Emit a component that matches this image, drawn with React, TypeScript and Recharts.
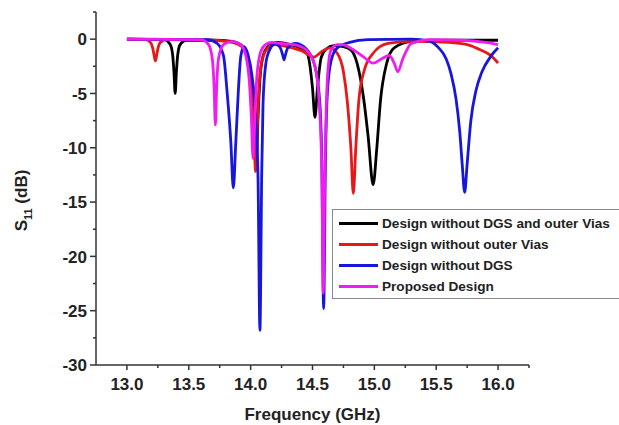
import { Label, Line, LineChart, XAxis, YAxis } from 'recharts';

// S11 traces (frequency in GHz, S11 in dB)
const blackFreq = [13.0, 13.3, 13.35, 13.37, 13.38, 13.39, 13.4, 13.41, 13.43, 13.48, 13.7, 13.85, 13.92, 13.97, 14.0, 14.03, 14.045, 14.06, 14.08, 14.11, 14.16, 14.22, 14.32, 14.4, 14.46, 14.5, 14.52, 14.54, 14.57, 14.61, 14.67, 14.75, 14.81, 14.86, 14.915, 14.95, 14.99, 15.02, 15.05, 15.1, 15.16, 15.3, 15.5, 16.0];
const blackS11 = [0, -0.05, -0.5, -1.5, -3.0, -5.0, -3.0, -1.5, -0.5, -0.1, -0.1, -0.2, -0.5, -1.5, -3.5, -8.5, -11.5, -7, -3, -1.2, -0.5, -0.3, -0.5, -0.8, -1.4, -4.5, -7.2, -4.5, -1.7, -0.9, -0.6, -0.7, -1.0, -2.2, -5.6, -9, -13.4, -10, -5.6, -2.2, -0.8, -0.2, -0.1, -0.1];

const redFreq = [13.0, 13.15, 13.19, 13.21, 13.22, 13.23, 13.24, 13.25, 13.27, 13.32, 13.7, 13.85, 13.93, 13.98, 14.01, 14.03, 14.04, 14.055, 14.07, 14.1, 14.14, 14.19, 14.3, 14.42, 14.51, 14.58, 14.64, 14.7, 14.75, 14.78, 14.81, 14.83, 14.85, 14.875, 14.92, 14.99, 15.11, 15.3, 15.6, 15.75, 15.86, 15.94, 16.0];
const redS11 = [0, -0.05, -0.3, -0.9, -1.5, -2.0, -1.5, -0.9, -0.3, -0.05, -0.1, -0.3, -0.7, -2, -5, -10, -12.2, -8, -4, -1.6, -0.8, -0.5, -0.7, -1.1, -1.65, -1.1, -0.8, -1.3, -3, -5.6, -10, -14.2, -10, -5.6, -2.8, -1.3, -0.4, -0.2, -0.3, -0.5, -1.0, -1.5, -2.2];

const blueFreq = [13.0, 13.65, 13.73, 13.78, 13.81, 13.84, 13.86, 13.88, 13.9, 13.92, 13.945, 13.98, 14.01, 14.04, 14.06, 14.075, 14.09, 14.1, 14.12, 14.145, 14.2, 14.24, 14.26, 14.27, 14.28, 14.3, 14.36, 14.45, 14.52, 14.56, 14.575, 14.59, 14.605, 14.62, 14.65, 14.7, 14.8, 14.95, 15.3, 15.45, 15.52, 15.58, 15.62, 15.66, 15.69, 15.71, 15.73, 15.75, 15.78, 15.82, 15.87, 15.94, 16.0];
const blueS11 = [0, -0.05, -0.4, -1.5, -4.9, -9.5, -13.7, -9.5, -4.9, -1.6, -0.7, -1.5, -3.3, -7, -13, -26.8, -12, -6, -2.5, -1.2, -0.4, -0.8, -1.5, -1.9, -1.5, -0.8, -0.4, -0.9, -2.5, -6, -11, -24.8, -11, -5, -2, -0.8, -0.3, -0.05, 0, -0.2, -0.8, -1.8, -3.2, -5.5, -8.5, -11.5, -14.1, -11.5, -7.5, -4.8, -3, -1.6, -0.8];

const magentaFreq = [13.0, 13.6, 13.66, 13.69, 13.705, 13.715, 13.725, 13.74, 13.78, 13.85, 13.92, 13.96, 13.99, 14.005, 14.02, 14.035, 14.05, 14.08, 14.12, 14.17, 14.25, 14.35, 14.45, 14.52, 14.555, 14.575, 14.587, 14.6, 14.615, 14.63, 14.65, 14.7, 14.74, 14.82, 14.92, 14.99, 15.06, 15.12, 15.16, 15.19, 15.23, 15.3, 15.45, 15.7, 15.9, 16.0];
const magentaS11 = [0, -0.05, -0.5, -1.8, -4.5, -7.9, -4.5, -1.8, -0.5, -0.2, -0.5, -1.5, -4, -7, -11, -7, -3.5, -1.2, -0.5, -0.3, -0.4, -0.5, -1.0, -2.5, -6, -12, -23.4, -12, -5, -2.2, -1.0, -0.5, -0.5, -0.9, -1.7, -2.2, -1.8, -1.5, -2.2, -3.0, -1.8, -0.4, -0.05, -0.1, -0.3, -0.5];

const xTicks = [13.0, 13.25, 13.5, 13.75, 14.0, 14.25, 14.5, 14.75, 15.0, 15.25, 15.5, 15.75, 16.0, 16.25];
const yTicks = [2.5, 0, -2.5, -5, -7.5, -10, -12.5, -15, -17.5, -20, -22.5, -25, -27.5, -30];

const zip = (f: number[], s: number[]) => f.map((x, i) => ({ f: x, s: s[i] }));

const series = [
  { name: 'Design without DGS and outer Vias', color: '#000000', data: zip(blackFreq, blackS11) },
  { name: 'Design without outer Vias', color: '#e81818', data: zip(redFreq, redS11) },
  { name: 'Design without DGS', color: '#1616dc', data: zip(blueFreq, blueS11) },
  { name: 'Proposed Design', color: '#f01cf0', data: zip(magentaFreq, magentaS11) },
];

const FONT = '"Liberation Sans", Arial, sans-serif';
const AXIS = '#333';
const TEXT = '#222';
const TICK_SIZE = 6;
const TICK_MARGIN = 2;

const YTick = (props: any) => {
  const { x, y, payload } = props;
  const v = payload.value;
  const major = v % 5 === 0;
  const ax = x + TICK_SIZE + TICK_MARGIN;
  return (
    <g>
      <line x1={ax} x2={ax - (major ? 6 : 3)} y1={y} y2={y} stroke={AXIS} strokeWidth={1.5} />
      {major && (
        <text x={ax - 9} y={y} dy="0.36em" textAnchor="end" fontSize={17} fontWeight="bold" fill={TEXT} fontFamily={FONT}>
          {v}
        </text>
      )}
    </g>
  );
};

const XTick = (props: any) => {
  const { x, y, payload } = props;
  const v = payload.value;
  const major = Number.isInteger(v * 2);
  const ay = y - TICK_SIZE - TICK_MARGIN;
  return (
    <g>
      <line x1={x} x2={x} y1={ay} y2={ay + (major ? 5 : 3)} stroke={AXIS} strokeWidth={1.5} />
      {major && v <= 16 && (
        <text x={x} y={ay + 19} dy="0.36em" textAnchor="middle" fontSize={17} fontWeight="bold" fill={TEXT} fontFamily={FONT}>
          {v.toFixed(1)}
        </text>
      )}
    </g>
  );
};

export default function App() {
  return (
    <div style={{ position: 'absolute', left: 0, top: 0, width: 619, height: 425, background: '#fff' }}>
      <LineChart width={619} height={425} margin={{ top: 12, right: 90, bottom: 0, left: 36 }}>
        <XAxis
          type="number"
          dataKey="f"
          domain={[12.75, 16.25]}
          ticks={xTicks}
          interval={0}
          tickSize={TICK_SIZE}
          tickMargin={TICK_MARGIN}
          tickLine={false}
          tick={<XTick />}
          height={60}
          stroke={AXIS}
          strokeWidth={1.5}
        >
          <Label
            content={(p: any) => {
              const vb = p.viewBox;
              return (
                <text x={vb.x + vb.width / 2} y={vb.y + 49} dy="0.36em" textAnchor="middle" fontSize={17} fontWeight="bold" fill={TEXT} fontFamily={FONT}>
                  Frequency (GHz)
                </text>
              );
            }}
          />
        </XAxis>
        <YAxis
          type="number"
          domain={[-30, 2.5]}
          ticks={yTicks}
          interval={0}
          tickSize={TICK_SIZE}
          tickMargin={TICK_MARGIN}
          tickLine={false}
          tick={<YTick />}
          width={60}
          stroke={AXIS}
          strokeWidth={1.5}
        >
          <Label
            content={(p: any) => {
              const vb = p.viewBox;
              const cx = vb.x - 9;
              const cy = vb.y + vb.height / 2 + 12;
              return (
                <text transform={`translate(${cx},${cy}) rotate(-90)`} textAnchor="middle" fontSize={17} fontWeight="bold" fill={TEXT} fontFamily={FONT}>
                  <tspan>S</tspan>
                  <tspan fontSize={11} dy={5}>11</tspan>
                  <tspan dy={-5}> (dB)</tspan>
                </text>
              );
            }}
          />
        </YAxis>
        {series.map((s) => (
          <Line
            key={s.name}
            data={s.data}
            dataKey="s"
            name={s.name}
            type="monotone"
            stroke={s.color}
            strokeWidth={2.8}
            dot={false}
            activeDot={false}
            isAnimationActive={false}
          />
        ))}
      </LineChart>
      <div
        style={{
          position: 'absolute',
          left: 332,
          top: 209,
          width: 282,
          height: 85,
          border: '1.5px solid #888',
          padding: '3px 0 0 6px',
          fontFamily: FONT,
          fontSize: 13.6,
          fontWeight: 'bold',
          color: TEXT,
        }}
      >
        {series.map((s) => (
          <div key={s.name} style={{ display: 'flex', alignItems: 'center', height: 21 }}>
            <div style={{ width: 39, height: 2.5, background: s.color, marginRight: 4 }} />
            <span style={{ whiteSpace: 'nowrap' }}>{s.name}</span>
          </div>
        ))}
      </div>
    </div>
  );
}
